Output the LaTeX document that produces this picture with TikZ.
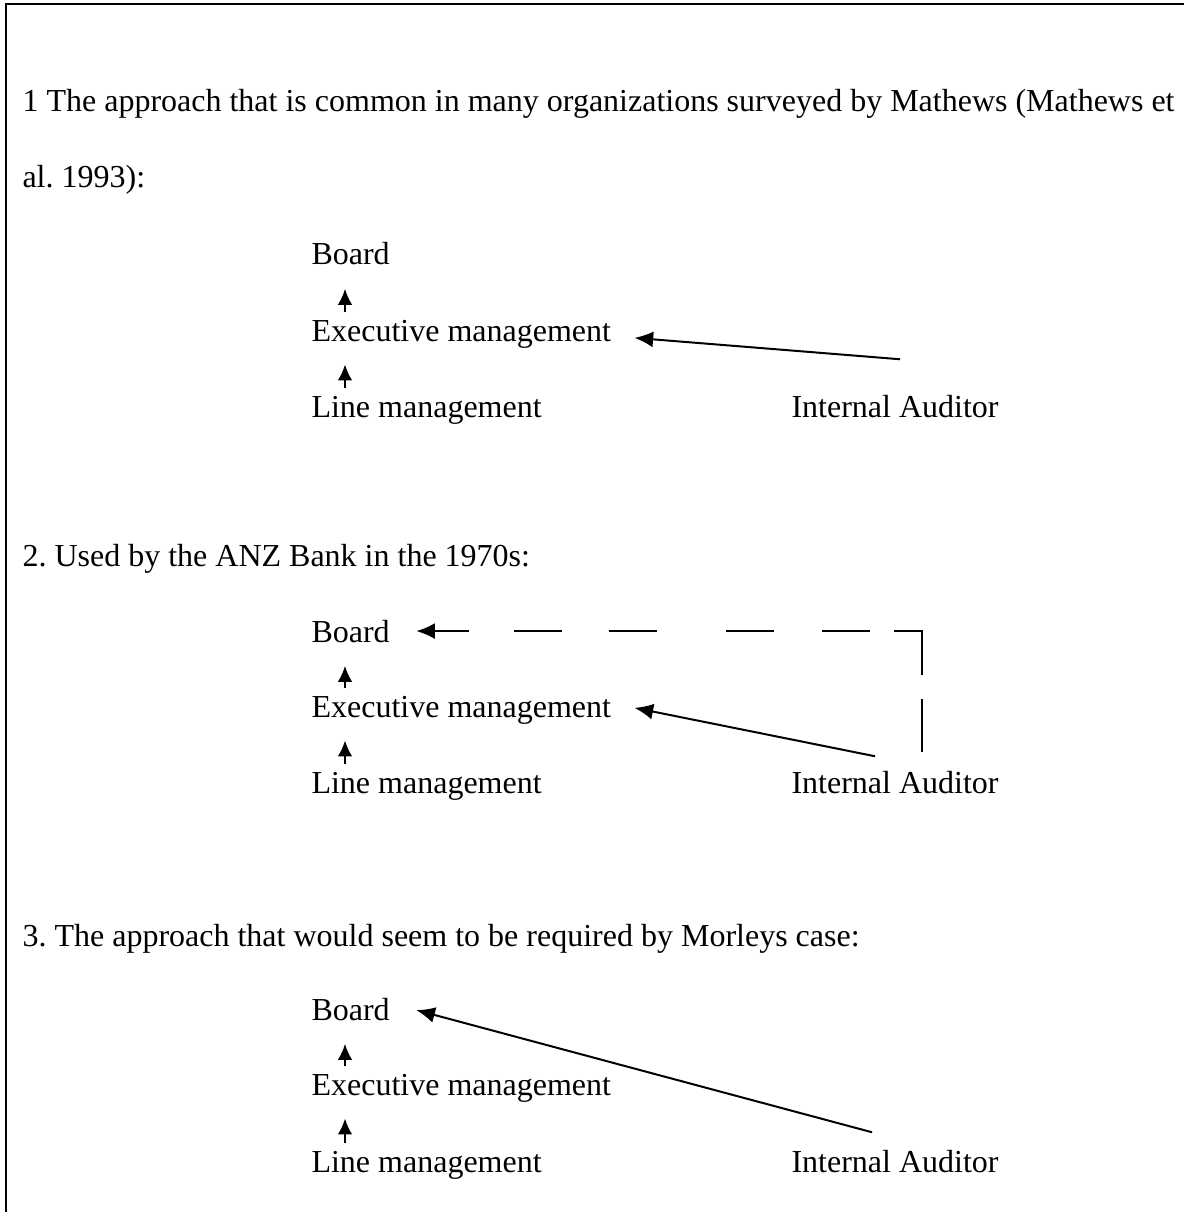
\documentclass[tikz,border=0pt]{standalone}
\usepackage{fontspec}
\setmainfont{Liberation Serif}
\usetikzlibrary{arrows.meta,calc}
\frenchspacing

\begin{document}
\begin{tikzpicture}[x=0.375pt,y=-0.375pt]
    \tikzstyle{txt} = [anchor=base west,inner sep=0pt,font=\fontsize{12}{14}\selectfont]
    \tikzstyle{arr} = [line width=0.75pt,-{Latex[length=7pt,width=6pt]}]
    \tikzstyle{uparr} = [line width=0.75pt,-{Latex[length=6pt,width=5.5pt]}]
    \useasboundingbox (0,0) rectangle (1184,1212);
        \draw[line width=1.1pt] (6,1212) -- (6,4) -- (1184,4);
        % first approach
        \node[txt] (h1) at (22,112) {1 The approach that is common in many organizations surveyed by Mathews (Mathews et};
        \node[txt] (h1b) at (22,188) {al. 1993):};
        \node[txt] (b1) at (311,265) {Board};
        \node[txt] (e1) at (311,341) {Executive management};
        \node[txt] (l1) at (311,417) {Line management};
        \node[txt] (a1) at (791,417) {Internal Auditor};
        \draw[uparr] ($(l1.north west)+(34,-7)$) -- ($(e1.south west)+(34,16)$);
        \draw[uparr] ($(e1.north west)+(34,-7)$) -- ($(b1.south west)+(34,23)$);
        \draw[arr] ($(a1.north)+(5,-35)$) -- ($(e1.east)+(23,4)$);
        % second approach
        \node[txt] (h2) at (22,566) {2. Used by the ANZ Bank in the 1970s:};
        \node[txt] (b2) at (311,642) {Board};
        \node[txt] (e2) at (311,717) {Executive management};
        \node[txt] (l2) at (311,793) {Line management};
        \node[txt] (a2) at (791,793) {Internal Auditor};
        \draw[uparr] ($(l2.north west)+(34,-7)$) -- ($(e2.south west)+(34,16)$);
        \draw[uparr] ($(e2.north west)+(34,-7)$) -- ($(b2.south west)+(34,23)$);
        \draw[arr] ($(a2.north)+(-20,-14)$) -- ($(e2.east)+(23,-2)$);
        \draw[line width=0.75pt,{Latex[length=7pt,width=6pt]}-,dash pattern=on 13pt off 17pt on 18pt off 17.5pt on 18pt off 26pt on 18pt off 18pt on 18pt off 9pt on 27pt off 9pt on 20pt off 50pt]
            ($(b2.east)+(26,0)$) -| ($(a2.north)+(27,-13)$);
        % third approach
        \node[txt] (h3) at (22,946) {3. The approach that would seem to be required by Morleys case:};
        \node[txt] (b3) at (311,1020) {Board};
        \node[txt] (e3) at (311,1095) {Executive management};
        \node[txt] (l3) at (311,1172) {Line management};
        \node[txt] (a3) at (791,1172) {Internal Auditor};
        \draw[uparr] ($(l3.north west)+(34,-7)$) -- ($(e3.south west)+(34,16)$);
        \draw[uparr] ($(e3.north west)+(34,-7)$) -- ($(b3.south west)+(34,23)$);
        \draw[arr] ($(a3.north)+(-23,-17)$) -- ($(b3.east)+(26,1)$);
    \end{tikzpicture}
\end{document}
